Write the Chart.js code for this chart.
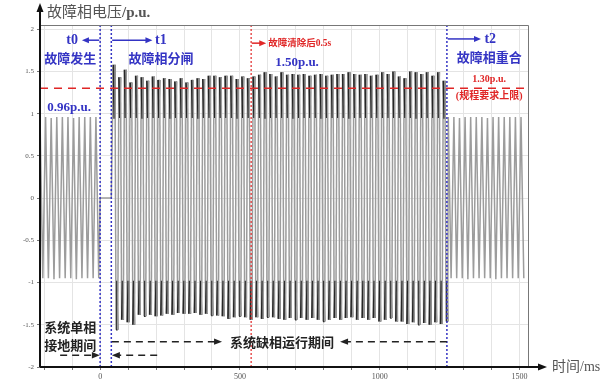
<!DOCTYPE html>
<html>
<head>
<meta charset="utf-8">
<script src="https://cdn.jsdelivr.net/npm/chart.js@4.4.1/dist/chart.umd.min.js"></script>
<style>
  html, body { margin: 0; padding: 0; background: #fff; }
</style>
</head>
<body>
<canvas id="wave" width="613" height="381"></canvas>
<script>
'use strict';

// Event times (ms)
const tFault = 0;       // t0: single phase earth fault
const tOpen = 40;       // t1: faulted phase opened
const tClear = 540;     // 0.5 s after opening
const tReclose = 1240;  // t2: faulted phase reclosed
const cycleMs = 20;     // 50 Hz

// Peak / trough of each cycle before the fault (p.u.)
const preHi = [0.96, 0.96, 0.95, 0.96, 0.96, 0.96, 0.95, 0.96, 0.96, 0.96, 0.96];
const preLo = [-0.95, -0.95, -0.96, -0.95, -0.95, -0.95, -0.96, -0.95, -0.95, -0.95, -0.95];

// Peak / trough of each cycle while the phase is open
const openHi = [
  1.58, 1.43, 1.52, 1.37, 1.45, 1.43, 1.39, 1.44, 1.40, 1.42, 1.41, 1.38, 1.42, 1.37, 1.40, 1.42,
  1.41, 1.45, 1.45, 1.43, 1.45, 1.45, 1.41, 1.44, 1.42, 1.44, 1.46, 1.49, 1.47, 1.44, 1.49, 1.46,
  1.47, 1.46, 1.47, 1.45, 1.46, 1.47, 1.45, 1.46, 1.47, 1.47, 1.49, 1.47, 1.46, 1.47, 1.45, 1.46,
  1.49, 1.47, 1.50, 1.44, 1.42, 1.50, 1.49, 1.47, 1.49, 1.45, 1.49, 1.39,
];
const openLo = [
  -1.56, -1.44, -1.47, -1.50, -1.38, -1.40, -1.38, -1.40, -1.39, -1.37, -1.38, -1.36, -1.37, -1.37, -1.36, -1.38,
  -1.37, -1.39, -1.39, -1.40, -1.43, -1.41, -1.40, -1.41, -1.44, -1.41, -1.43, -1.41, -1.41, -1.43, -1.44, -1.42,
  -1.44, -1.42, -1.44, -1.42, -1.44, -1.46, -1.44, -1.42, -1.44, -1.42, -1.41, -1.44, -1.42, -1.44, -1.42, -1.46,
  -1.44, -1.42, -1.46, -1.46, -1.49, -1.47, -1.50, -1.48, -1.50, -1.47, -1.49, -1.46,
];
// level the harmonic ripple drops back to near each peak
const kneeHi = 0.95;
const kneeLo = -0.98;

// Peak / trough of each cycle after reclosing
const postHi = [0.96, 0.96, 0.95, 0.96, 0.96, 0.96, 0.96, 0.95, 0.96, 0.96, 0.96, 0.96, 0.96, 0.96];
const postLo = [-0.95, -0.95, -0.95, -0.96, -0.95, -0.95, -0.95, -0.95, -0.96, -0.95, -0.95, -0.95, -0.95, -0.95];

const limitPu = 1.3;
const xTickLabels = [0, 500, 1000, 1500];
const yTickLabels = [-2, -1.5, -1, -0.5, 0, 0.5, 1, 1.5, 2];

const xMin = -215, xMax = 1530;
const yMin = -2, yMax = 2.05;

const blue = '#3434c4';
const red = '#e02626';
const waveGray = '#9c9c9c';
const waveDark = '#262626';

// build the waveform from the per-cycle extremes
const wavePts = [];
let start = tFault - preHi.length * cycleMs;
for (let k = 0; k < preHi.length; k++) {
  wavePts.push({ x: start + 5, y: preHi[k] });
  wavePts.push({ x: start + 15, y: preLo[k] });
  start += cycleMs;
}
wavePts.push({ x: tFault, y: 0 });
wavePts.push({ x: tOpen, y: 0 });
for (let k = 0; k < openHi.length; k++) {
  const s = tOpen + k * cycleMs;
  wavePts.push({ x: s + 7, y: openHi[k] });
  wavePts.push({ x: s + 10, y: kneeHi, rip: true });
  wavePts.push({ x: s + 13, y: openHi[k] });
  wavePts.push({ x: s + 17, y: openLo[k] });
  wavePts.push({ x: s + 20, y: kneeLo, rip: true });
  wavePts.push({ x: s + 23, y: openLo[k] });
}
for (let k = 0; k < postHi.length; k++) {
  const s = tReclose + k * cycleMs;
  wavePts.push({ x: s + 5, y: postHi[k] });
  wavePts.push({ x: s + 15, y: postLo[k] });
}

function isRipple(ctx) {
  return wavePts[ctx.p0DataIndex].rip || wavePts[ctx.p1DataIndex].rip;
}

function vLine(t) {
  return [{ x: t, y: yMin }, { x: t, y: yMax }];
}

function head(ctx, x, y, dx, dy, len, half) {
  // filled arrow head with tip at (x, y) pointing along (dx, dy)
  ctx.beginPath();
  ctx.moveTo(x, y);
  ctx.lineTo(x - dx * len - dy * half, y - dy * len - dx * half);
  ctx.lineTo(x - dx * len + dy * half, y - dy * len + dx * half);
  ctx.closePath();
  ctx.fill();
}

const cjk = '"Noto Sans CJK SC"';
const serif = '"Liberation Serif", "Noto Sans CJK SC"';

const notes = {
  id: 'notes',
  afterDatasetsDraw(chart) {
    const { ctx, chartArea: area } = chart;
    const px = (t) => chart.scales.x.getPixelForValue(t);
    const py = (v) => chart.scales.y.getPixelForValue(v);

    ctx.save();

    // frame on top and right
    ctx.strokeStyle = '#777';
    ctx.lineWidth = 1;
    ctx.beginPath();
    ctx.moveTo(area.left, area.top + 0.5);
    ctx.lineTo(area.right + 0.5, area.top + 0.5);
    ctx.lineTo(area.right + 0.5, area.bottom);
    ctx.stroke();

    // axes with arrows
    ctx.strokeStyle = '#111';
    ctx.fillStyle = '#111';
    ctx.lineWidth = 2;
    ctx.beginPath();
    ctx.moveTo(area.left, area.bottom);
    ctx.lineTo(area.left, 10);
    ctx.moveTo(area.left, area.bottom);
    ctx.lineTo(540, area.bottom);
    ctx.stroke();
    head(ctx, area.left, 3, 0, -1, 9, 3.5);
    head(ctx, 547, area.bottom, 1, 0, 9, 3.5);

    ctx.textBaseline = 'middle';
    ctx.textAlign = 'left';
    ctx.fillStyle = '#555';
    ctx.font = '15px ' + serif;
    ctx.fillText('故障相电压', 47, 13);
    ctx.font = 'bold 15px ' + serif;
    ctx.fillText('/p.u.', 47 + 5 * 15, 13);
    ctx.font = '14px ' + serif;
    ctx.fillText('时间/ms', 552, 367);

    function text(str, t, v, font, color, align) {
      ctx.font = font;
      ctx.fillStyle = color;
      ctx.textAlign = align || 'center';
      ctx.fillText(str, px(t), py(v));
    }

    function solidArrow(t0, t1, v, color) {
      const x0 = px(t0), x1 = px(t1), y = py(v);
      ctx.strokeStyle = color;
      ctx.fillStyle = color;
      ctx.lineWidth = 1.5;
      ctx.setLineDash([]);
      ctx.beginPath();
      ctx.moveTo(x0, y);
      ctx.lineTo(x1 - Math.sign(x1 - x0) * 4, y);
      ctx.stroke();
      head(ctx, x1, y, Math.sign(x1 - x0), 0, 7, 3);
    }

    function dashArrow(tTail, tTip, v) {
      const x0 = px(tTail), x1 = px(tTip), y = py(v);
      const d = Math.sign(x1 - x0);
      ctx.strokeStyle = '#222';
      ctx.fillStyle = '#222';
      ctx.lineWidth = 1.5;
      ctx.setLineDash([7, 5]);
      ctx.beginPath();
      ctx.moveTo(x0, y);
      ctx.lineTo(x1 - d * 6, y);
      ctx.stroke();
      ctx.setLineDash([]);
      head(ctx, x1, y, d, 0, 8, 3.2);
    }

    // event arrows and labels
    solidArrow(tFault - 3, -65, 1.87, blue);
    text('t0', -100, 1.87, 'bold 14px ' + serif, blue);
    text('故障发生', -107, 1.655, 'bold 13px ' + cjk, blue);

    solidArrow(tOpen + 3, 187, 1.87, blue);
    text('t1', 217, 1.87, 'bold 14px ' + serif, blue);
    text('故障相分闸', 218, 1.655, 'bold 13px ' + cjk, blue);

    solidArrow(tClear + 2, 594, 1.835, red);
    text('故障清除后0.5s', 601, 1.835, 'bold 9.5px ' + serif, red, 'left');
    text('1.50p.u.', 704, 1.61, 'bold 13px ' + serif, blue);

    solidArrow(tReclose + 3, 1362, 1.885, blue);
    text('t2', 1395, 1.885, 'bold 14px ' + serif, blue);
    text('故障相重合', 1391, 1.67, 'bold 13px ' + cjk, blue);

    text('0.96p.u.', -111, 1.067, 'bold 13px ' + serif, blue);
    text('1.30p.u.', 1391, 1.40, 'bold 10px ' + serif, red);
    text('(规程要求上限)', 1391, 1.21, 'bold 10px ' + serif, red);

    // fault periods
    text('系统单相', -107, -1.526, 'bold 13px ' + cjk, '#222');
    text('接地期间', -107, -1.74, 'bold 13px ' + cjk, '#222');
    dashArrow(-143, tFault - 1, -1.86);
    dashArrow(204, tOpen + 2, -1.86);

    dashArrow(tOpen + 2, 436, -1.70);
    text('系统缺相运行期间', 650, -1.70, 'bold 13px ' + cjk, '#222');
    dashArrow(tReclose, 858, -1.70);

    ctx.restore();
  },
};

new Chart(document.getElementById('wave'), {
  type: 'line',
  data: {
    datasets: [
      { data: vLine(tFault), borderColor: blue, borderWidth: 1.5, borderDash: [2, 2] },
      { data: vLine(tOpen), borderColor: blue, borderWidth: 1.5, borderDash: [2, 2] },
      { data: vLine(tReclose), borderColor: blue, borderWidth: 1.5, borderDash: [2, 2] },
      { data: vLine(tClear), borderColor: red, borderWidth: 1.2, borderDash: [2, 2] },
      {
        data: [{ x: xMin, y: limitPu }, { x: xMax, y: limitPu }],
        borderColor: red, borderWidth: 1.5, borderDash: [8, 6],
      },
      {
        data: wavePts,
        borderColor: waveGray,
        borderWidth: 1.5,
        segment: {
          borderColor: (c) => (isRipple(c) ? waveDark : waveGray),
          borderWidth: (c) => (isRipple(c) ? 1.5 : 1.5),
        },
      },
    ],
  },
  options: {
    responsive: false,
    animation: false,
    parsing: false,
    layout: { padding: { top: 25, right: 85, left: 0, bottom: 0 } },
    plugins: { legend: { display: false }, tooltip: { enabled: false } },
    elements: { point: { radius: 0 }, line: { tension: 0, fill: false } },
    scales: {
      x: {
        type: 'linear',
        min: xMin,
        max: xMax,
        afterFit: (s) => { s.height = 14; },
        border: { display: false },
        grid: { color: '#e4e4e4', tickLength: 3, tickColor: '#777' },
        ticks: {
          stepSize: 100,
          includeBounds: false,
          autoSkip: false,
          maxRotation: 0,
          padding: 2,
          color: '#555',
          font: { size: 8, family: 'Liberation Serif' },
          callback: (v) => (xTickLabels.includes(v) ? String(v) : ''),
        },
      },
      y: {
        type: 'linear',
        min: yMin,
        max: yMax,
        afterFit: (s) => { s.width = 40; },
        border: { display: false },
        grid: { color: '#e4e4e4', tickLength: 3, tickColor: '#777' },
        ticks: {
          stepSize: 0.5,
          includeBounds: false,
          padding: 3,
          color: '#555',
          font: { size: 7, family: 'Liberation Serif' },
          callback: (v) => (yTickLabels.includes(v) ? String(v) : ''),
        },
      },
    },
  },
  plugins: [notes],
});
</script>
</body>
</html>
